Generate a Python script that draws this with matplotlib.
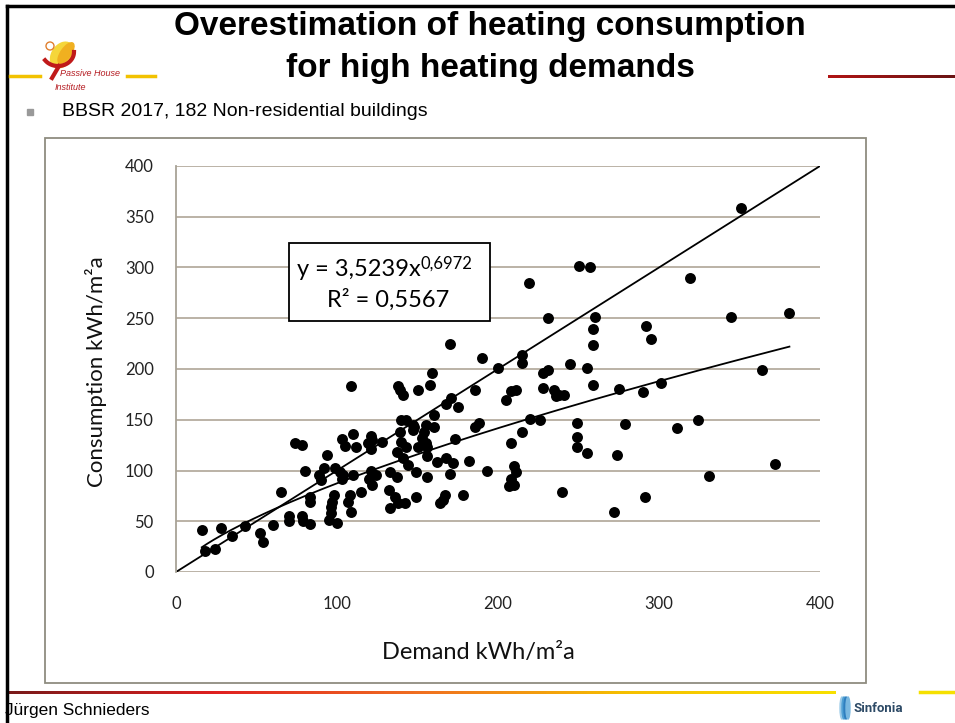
import numpy as np
import matplotlib
matplotlib.use("Agg")
import matplotlib.pyplot as plt
from matplotlib.patches import Rectangle, Ellipse, Circle
from matplotlib.colors import LinearSegmentedColormap

# data (kWh/m²a)
demand = [16, 28, 18, 24, 35, 43, 52, 54, 60, 65, 70, 70, 78, 79, 83, 83, 83, 80, 74, 78,
          109, 138, 139, 141, 150, 110, 103, 105, 112, 121, 122, 119, 121, 128,
          140, 143, 147, 139, 140, 137, 94, 141, 144, 149, 92, 89, 90,
          99, 102, 104, 103, 110, 121, 124, 120, 122, 115, 133, 137,
          132, 136, 138, 133, 149, 98, 97, 96, 96, 95, 100, 108, 107, 109,
          170, 190, 159, 158, 186, 200, 208, 211, 205, 171, 168, 175, 160,
          148, 147, 155, 160, 154, 153, 155, 150, 156, 143,
          186, 188, 173, 208, 156, 162, 168, 172, 170, 156, 142,
          182, 193, 167, 166, 164, 178, 210, 211, 208, 207, 210,
          250, 257, 219, 231, 260, 259, 259, 215, 215, 228, 231, 245, 255,
          228, 235, 238, 241, 236, 259, 275, 220, 226, 215, 249, 249, 249, 255, 274, 240, 272,
          351, 319, 345, 381, 292, 295, 290, 301, 364, 279, 311, 324, 372, 331, 291]
consumption = [41, 43, 21, 23, 35, 45, 38, 30, 46, 79, 55, 50, 55, 50, 47, 74, 69, 100, 127, 125,
               183, 183, 179, 174, 179, 136, 131, 124, 123, 134, 130, 127, 121, 128,
               150, 150, 145, 138, 128, 118, 115, 112, 105, 99, 102, 96, 91,
               102, 99, 96, 92, 96, 100, 96, 92, 86, 79, 99, 94,
               81, 74, 68, 63, 74, 76, 69, 64, 58, 51, 48, 76, 69, 59,
               225, 211, 196, 184, 179, 201, 178, 179, 169, 171, 166, 163, 155,
               143, 140, 145, 143, 138, 132, 127, 123, 123, 123,
               143, 147, 131, 127, 114, 108, 112, 107, 97, 94, 68,
               109, 100, 76, 71, 68, 76, 104, 99, 92, 85, 86,
               301, 300, 285, 250, 251, 239, 224, 214, 206, 196, 199, 205, 201,
               181, 179, 174, 174, 173, 184, 180, 151, 150, 138, 147, 133, 123, 117, 115, 79, 59,
               359, 290, 251, 255, 242, 230, 177, 186, 199, 146, 142, 150, 106, 95, 74]

# power trendline as shown on the chart
fit_a = 3.5239
fit_b = 0.6972
fit_r2 = "0,5567"

x_ticks = [0, 100, 200, 300, 400]
y_ticks = [0, 50, 100, 150, 200, 250, 300, 350, 400]

W, H = 955, 723
chart_font = ["Lato", "DejaVu Sans"]
slide_font = ["Liberation Sans", "DejaVu Sans"]

fig = plt.figure(figsize=(W / 100, H / 100), dpi=100)
fig.patch.set_facecolor("white")

# main scatter axes
ax = fig.add_axes([176 / W, 1 - 572 / H, 644 / W, 406 / H])
ax.scatter(demand, consumption, s=62, color="black", zorder=3, linewidths=0)
ax.plot([0, 400], [0, 400], color="black", lw=1.3, zorder=2)
xs = np.linspace(min(demand), max(demand), 200)
ax.plot(xs, fit_a * xs ** fit_b, color="black", lw=1.3, zorder=2)

ax.set_xlim(0, 400)
ax.set_ylim(0, 400)
ax.set_xticks(x_ticks)
ax.set_yticks(y_ticks)
ax.yaxis.grid(True, color="#b5ad9f", lw=1.3)
ax.set_axisbelow(True)
for s in ["top", "right", "bottom"]:
    ax.spines[s].set_visible(False)
ax.spines["left"].set_color("#a8a296")
ax.spines["left"].set_linewidth(1.3)
ax.tick_params(length=0, labelsize=12)
ax.tick_params(axis="x", pad=17)
ax.tick_params(axis="y", pad=16)
for lab in ax.get_xticklabels() + ax.get_yticklabels():
    lab.set_family(chart_font)
    lab.set_color("#222222")

# overlay in pixel coordinates for slide decorations
deco = fig.add_axes([0, 0, 1, 1], zorder=5)
deco.set_xlim(0, W)
deco.set_ylim(H, 0)
deco.axis("off")
deco.patch.set_alpha(0)

# slide border
deco.plot([7, W], [6, 6], color="black", lw=2.5)
deco.plot([7, 7], [6, H], color="black", lw=2.5)

# chart frame
deco.add_patch(Rectangle((45, 138), 821, 545, fill=False, ec="#8f8c80", lw=1.3))

# axis titles
deco.text(96, 372, "Consumption kWh/m²a", rotation=90, ha="center", va="center",
          fontsize=16, family=chart_font, color="#111111")
deco.text(478, 652, "Demand kWh/m²a", ha="center", va="center",
          fontsize=17, family=chart_font, color="#111111")

# equation box
deco.add_patch(Rectangle((289, 243), 201, 78, fc="white", ec="black", lw=1.3))
eq = deco.text(297, 270, "y = 3,5239x", ha="left", va="center", fontsize=17,
               family=chart_font)
deco.annotate("0,6972", xy=(1, 0.8), xycoords=eq, ha="left", va="center",
              fontsize=12, family=chart_font)
deco.text(388, 300, "R² = " + fit_r2, ha="center", va="center", fontsize=17,
          family=chart_font)

# title and bullet
deco.text(490, 26, "Overestimation of heating consumption", ha="center", va="center",
          fontsize=24, fontweight="bold", family=slide_font)
deco.text(490, 68, "for high heating demands", ha="center", va="center",
          fontsize=24, fontweight="bold", family=slide_font)
deco.add_patch(Rectangle((27, 109), 6, 6, color="#999999"))
deco.text(62, 112, "BBSR 2017, 182 Non-residential buildings", ha="left", va="center",
          fontsize=14, family=slide_font)

# Passive House Institute logo (rough)
deco.plot([10, 40], [76, 76], color="#f2c200", lw=2.5)
deco.plot([127, 155], [76, 76], color="#f2c200", lw=2.5)
deco.add_patch(Ellipse((62, 55), 20, 28, angle=35, color="#f5d63a"))
deco.add_patch(Ellipse((66, 53), 10, 24, angle=35, color="#f0b020"))
t = np.linspace(0.2, 1.0, 50) * np.pi
deco.plot(58 + 16 * np.cos(t + np.pi), 52 + 14 * np.sin(t), color="#c01a1a", lw=3)
deco.plot([59, 52], [66, 78], color="#c01a1a", lw=3)
deco.add_patch(Circle((50, 46), 4, fill=False, ec="#e08030", lw=1))
deco.text(60, 73, "Passive House", fontsize=6.5, style="italic", color="#b51c22",
          ha="left", va="center", family=slide_font)
deco.text(55, 87, "Institute", fontsize=6.5, style="italic", color="#b51c22",
          ha="left", va="center", family=slide_font)

# gradient rules
top_cmap = LinearSegmentedColormap.from_list("top", ["#b01414", "#6a1414"])
ax_top = fig.add_axes([828 / W, 1 - 78 / H, (W - 828) / W, 3 / H])
ax_top.imshow(np.linspace(0, 1, 100)[None, :], cmap=top_cmap, aspect="auto")
ax_top.axis("off")

foot_cmap = LinearSegmentedColormap.from_list(
    "foot", ["#7a1a1a", "#e02020", "#f07020", "#f5c000", "#f8e000"])
ax_foot = fig.add_axes([8 / W, 1 - 694 / H, 827 / W, 3 / H])
ax_foot.imshow(np.linspace(0, 1, 200)[None, :], cmap=foot_cmap, aspect="auto")
ax_foot.axis("off")
deco.plot([920, W], [692, 692], color="#f5e000", lw=2.5)

# footer
deco.text(5, 711, "Jürgen Schnieders", ha="left", va="center", fontsize=12.4, family=slide_font)
for i, c in enumerate(["#9ccbe8", "#4f9fd4", "#2f7fbf", "#7ab8e0"]):
    deco.add_patch(Ellipse((842 + i * 2, 708), 4, 22, color=c))
deco.text(853, 709, "Sinfonia", ha="left", va="center", fontsize=9.5, fontweight="bold",
          color="#2d4a66", family=["Roboto", "DejaVu Sans"])

fig.savefig("out.png", dpi=100)
